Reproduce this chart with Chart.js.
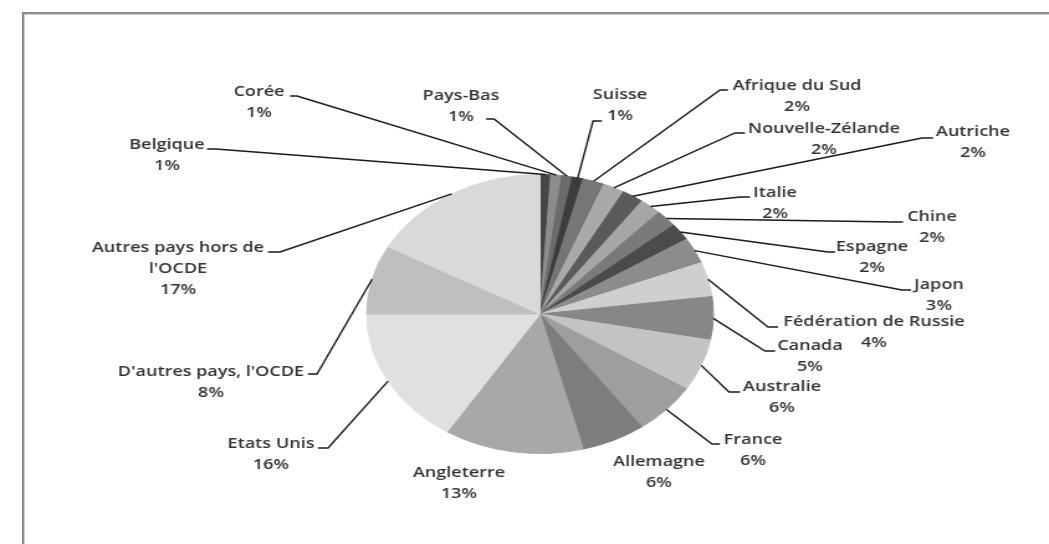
<!DOCTYPE html>
<html><head><meta charset="utf-8">
<script src="https://cdn.jsdelivr.net/npm/chart.js@4.4.0/dist/chart.umd.min.js"></script>
<style>
html,body{margin:0;padding:0;background:#fff;overflow:hidden;width:1049px;height:544px}
#frame{position:absolute;left:22px;top:12px;width:1100px;height:600px;border:2px solid #8e8e8e;box-shadow:inset 1px 1px 0 #cfcfcf;}
#stretch{position:absolute;left:0;top:0;transform-origin:0 0;}
</style>
</head><body>
<div id="frame"></div>
<div id="stretch"><canvas id="c" width="844" height="544"></canvas></div>
<script>
// ---- data ----
const categories = ["Belgique","Corée","Pays-Bas","Suisse","Afrique du Sud","Nouvelle-Zélande","Autriche","Italie","Chine","Espagne","Japon","Fédération de Russie","Canada","Australie","France","Allemagne","Angleterre","Etats Unis","D'autres pays, l'OCDE","Autres pays hors de l'OCDE"];
const shares = [1,1,1,1,2,2,2,2,2,2,3,4,5,6,6,6,13,16,8,17];
const sliceColors = ["#474747","#8c8c8c","#6b6b6b","#3c3c3c","#767676","#a9a9a9","#5a5a5a","#a6a6a6","#7a7a7a","#4b4b4b","#8c8c8c","#cfcfcf","#878787","#c3c3c3","#9e9e9e","#7d7d7d","#a8a8a8","#e0e0e0","#bfbfbf","#d9d9d9"];
const labelNames = [["Belgique"],["Corée"],["Pays-Bas"],["Suisse"],["Afrique du Sud"],["Nouvelle-Zélande"],["Autriche"],["Italie"],["Chine"],["Espagne"],["Japon"],["Fédération de Russie"],["Canada"],["Australie"],["France"],["Allemagne"],["Angleterre"],["Etats Unis"],["D'autres pays, l'OCDE"],["Autres pays hors de","l'OCDE"]];

// ---- layout (page pixels): label centre x, first line y, leader elbow x, elbow y, stub end x ----
const STRETCH = 174/140;
const labelLayout = [
  [167,145,216,149,207],
  [259,92,297,96,290],
  [461,96,494,119,486],
  [620,95,593,121,602],
  [797,86,720,90,728],
  [824,129,735,133,745],
  [973,132,922,138,933],
  [775,193,740,197,750],
  [932,217,895,222,903],
  [872,247,828,252,835],
  [939,285,902,290,911],
  [874,322,768,327,778],
  [810,346,765,351,775],
  [782,387,729,392,740],
  [753,440,712,444,720],
  [659,462,null,null,null],
  [459,473,null,null,null],
  [271,444,328,448,318],
  [211,372,317,374,308],
  [178,248,280,252,268]
];

document.getElementById('stretch').style.transform = 'scaleX(' + STRETCH + ')';

const total = shares.reduce((a,b)=>a+b,0);

const labelPlugin = {
  id:'pieLabels',
  afterDraw(chart){
    const ctx = chart.ctx;
    const arcs = chart.getDatasetMeta(0).data;
    ctx.save();
    ctx.strokeStyle = '#1a1a1a';
    ctx.lineWidth = 1.4;
    arcs.forEach((arc,i)=>{
      const L = labelLayout[i];
      if (L[2] === null) return;
      const p = arc.getProps(['x','y','startAngle','endAngle','outerRadius'], true);
      const mid = (p.startAngle + p.endAngle)/2;
      const ax = p.x + p.outerRadius*Math.cos(mid);
      const ay = p.y + p.outerRadius*Math.sin(mid);
      ctx.beginPath();
      ctx.moveTo(ax, ay);
      ctx.lineTo(L[2]/STRETCH, L[3]);
      ctx.lineTo(L[4]/STRETCH, L[3]);
      ctx.stroke();
    });
    ctx.fillStyle = '#333333';
    ctx.font = '600 14.5px "Open Sans"';
    ctx.textAlign = 'center';
    ctx.textBaseline = 'middle';
    arcs.forEach((arc,i)=>{
      const L = labelLayout[i];
      const lines = labelNames[i].concat([Math.round(shares[i]/total*100)+'%']);
      lines.forEach((t,k)=>{
        ctx.fillText(t, L[0]/STRETCH, L[1] + k*21);
      });
    });
    ctx.restore();
  }
};

const cx = 540/STRETCH, cy = 314, R = 140;
new Chart(document.getElementById('c'), {
  type:'pie',
  data:{ labels: categories, datasets:[{ data: shares, backgroundColor: sliceColors, borderColor: sliceColors, borderWidth: 1 }]},
  options:{
    responsive:false, animation:false, devicePixelRatio:1,
    layout:{ padding:{ left: cx-R, right: 844-(cx+R), top: cy-R, bottom: 544-(cy+R) } },
    plugins:{ legend:{display:false}, tooltip:{enabled:false} }
  },
  plugins:[labelPlugin]
});
</script>
</body></html>
